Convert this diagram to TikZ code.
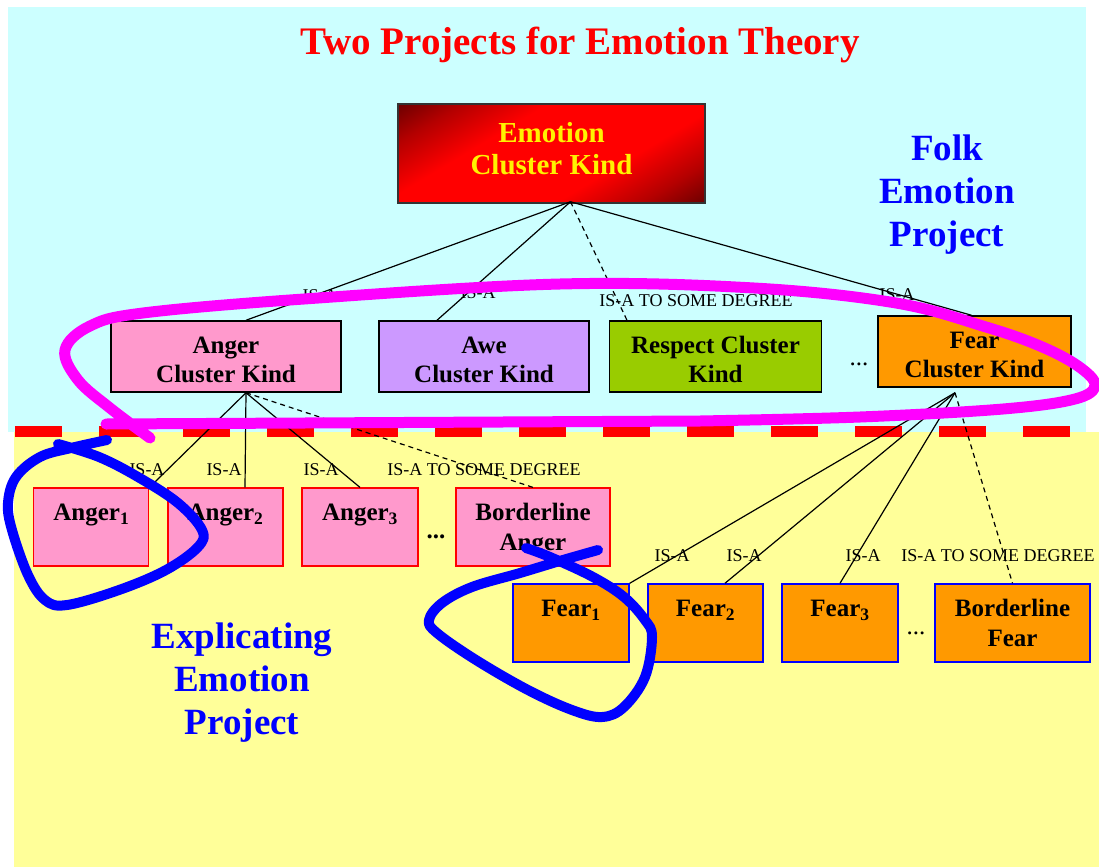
\documentclass[tikz,border=0pt]{standalone}
\usepackage{fontspec}
\setmainfont{Liberation Serif}
\usetikzlibrary{calc}

\definecolor{skycyan}{HTML}{CCFFFF}
\definecolor{paleyellow}{HTML}{FFFF99}
\definecolor{angerpink}{HTML}{FF99CC}
\definecolor{awepurple}{HTML}{CC99FF}
\definecolor{respectgreen}{HTML}{99CC00}
\definecolor{fearorange}{HTML}{FF9900}
\definecolor{emodark}{HTML}{6A0000}
\definecolor{emomid}{HTML}{B40000}
\definecolor{emored}{HTML}{FF0000}
\definecolor{inkblue}{HTML}{0000FF}
\definecolor{penmagenta}{HTML}{FF00FF}

\newcommand\setfs[2]{\fontsize{#1}{#2}\selectfont}
% two centred lines, baseline on the first one
\newcommand\twolines[2]{\begin{tabular}[t]{@{}c@{}}#1\\#2\end{tabular}}

% glow for the root box: dark ends, bright red middle
\pgfdeclarehorizontalshading{emoglow}{100bp}{%
  color(0bp)=(emodark); color(32bp)=(emodark); color(37bp)=(emomid);
  color(43.5bp)=(emored); color(56.5bp)=(emored); color(63bp)=(emomid);
  color(68bp)=(emodark); color(100bp)=(emodark)}

\begin{document}
\begin{tikzpicture}[x=1pt,y=-1pt,
  kindbox/.style={draw=black, line width=1.5pt, minimum height=71pt, inner sep=0pt,
    text height=10pt, text depth=16pt, font=\bfseries\setfs{25}{28.5}},
  leafbox/.style={minimum height=78pt, inner sep=0pt,
    text height=8pt, text depth=21pt, font=\bfseries\setfs{25}{30}},
  angerleaf/.style={leafbox, draw=red, line width=1.2pt, fill=angerpink},
  fearleaf/.style={leafbox, draw=inkblue, line width=1.5pt, fill=fearorange},
  isa/.style={draw=black, line width=1.2pt},
  isadeg/.style={isa, dash pattern=on 5pt off 4pt},
  relabel/.style={inner sep=0pt, font=\setfs{18}{20}},
  dots/.style={inner sep=0pt, font=\setfs{25}{30}},
  projtext/.style={align=center, inner sep=0pt, text=inkblue, font=\bfseries\setfs{37}{43}},
  pen/.style={line width=#1, line cap=round, line join=round},
  % the glow runs from the top-left corner to the bottom-right corner
  diagglow/.style={path picture={
    \shade[shading=emoglow,
      transform canvas={rotate around={-59:(path picture bounding box.center)}}]
      ($(path picture bounding box.center)+(-170,-170)$) rectangle
      ($(path picture bounding box.center)+(170,170)$);}},
]
\useasboundingbox (0,0) rectangle (1099,867);

% backgrounds of the two projects
\fill[white] (0,0) rectangle (1099,867);
\fill[skycyan] (8,7) rectangle (1086,432);
\fill[paleyellow] (14,432) rectangle (1099,867);

% boundary between the two projects
\coordinate (bl) at (15,431);
\coordinate (br) at (1070,431);
\draw[red, line width=11pt, dash pattern=on 47pt off 37pt] (bl) -- (br);

% title
\node[text=red, inner sep=0pt, font=\bfseries\setfs{39}{44}] (title) at (580,45)
  {Two Projects for Emotion Theory};

% root kind
\node[draw=black!80, line width=1.5pt, fill=emored, diagglow,
  minimum width=307pt, minimum height=99pt, inner sep=0pt,
  text height=5pt, text depth=28pt,
  text=yellow, font=\bfseries\setfs{29}{32}] (emo) at (551.5,153.5)
  {\twolines{Emotion}{Cluster Kind}};

% cluster kinds
\node[kindbox, fill=angerpink, minimum width=230pt] (ack) at (226,356.5) {\twolines{Anger}{Cluster Kind}};
\node[kindbox, fill=awepurple, minimum width=210pt] (awe) at (484,356.5) {\twolines{Awe}{Cluster Kind}};
\node[kindbox, fill=respectgreen, minimum width=212pt] (resp) at (715.5,356.5) {\twolines{Respect Cluster}{Kind}};
\node[kindbox, fill=fearorange, minimum width=193pt] (fck) at (974.5,351.5) {\twolines{Fear}{Cluster Kind}};
\node[dots] (kdots) at (859,364) {...};

% explicated anger kinds
\node[angerleaf, minimum width=115pt] (a1) at (91.3,527) {Anger\textsubscript{1}};
\node[angerleaf, minimum width=115pt] (a2) at (225.5,527) {Anger\textsubscript{2}};
\node[angerleaf, minimum width=116pt] (a3) at (360,527) {Anger\textsubscript{3}};
\node[angerleaf, minimum width=154pt] (ab) at (533,527) {\twolines{Borderline}{Anger}};
\node[dots, font=\bfseries\setfs{25}{30}] (adots) at (436,537) {...};

% explicated fear kinds
\node[fearleaf, minimum width=116pt] (f1) at (571,623) {Fear\textsubscript{1}};
\node[fearleaf, minimum width=115pt] (f2) at (705.5,623) {Fear\textsubscript{2}};
\node[fearleaf, minimum width=116pt] (f3) at (840,623) {Fear\textsubscript{3}};
\node[fearleaf, minimum width=155pt] (fb) at (1012.5,623) {\twolines{Borderline}{Fear}};
\node[dots] (fdots) at (916,633) {...};

% is-a links from the root
\coordinate (emohub) at ($(emo.south)+(19,-2)$);
\draw[isa] (emohub) -- ($(ack.north)+(20,0)$);
\draw[isa] (emohub) -- ($(awe.north)+(-47,0)$);
\draw[isadeg] (emohub) -- ($(resp.north)+(-88.5,0)$);
\draw[isa] (emohub) -- ($(fck.north)+(-3,0)$);

% is-a links below anger
\coordinate (ackhub) at ($(ack.south)+(20,0)$);
\draw[isa] (ackhub) -- (a1.north east);
\draw[isa] (ackhub) -- ($(a2.north)+(19.5,0)$);
\draw[isa] (ackhub) -- (a3.north);
\draw[isadeg] (ackhub) -- (ab.north);

% is-a links below fear
\coordinate (fckhub) at ($(fck.south)+(-19.5,5)$);
\draw[isa] (fckhub) -- (f1.north east);
\draw[isa] (fckhub) -- ($(f2.north)+(19.5,0)$);
\draw[isa] (fckhub) -- (f3.north);
\draw[isadeg] (fckhub) -- (fb.north);

% link labels
\node[relabel] (t1) at (320,296) {IS-A};
\node[relabel] (t2) at (478,293) {IS-A};
\node[relabel] (t3) at (696,301) {IS-A TO SOME DEGREE};
\node[relabel] (t4) at (897,295) {IS-A};
\node[relabel] (t5) at (147,470) {IS-A};
\node[relabel] (t6) at (224,470) {IS-A};
\node[relabel] (t7) at (321,470) {IS-A};
\node[relabel] (t8) at (484,470) {IS-A TO SOME DEGREE};
\node[relabel] (t9) at (672,556) {IS-A};
\node[relabel] (t10) at (744,556) {IS-A};
\node[relabel] (t11) at (863,556) {IS-A};
\node[relabel] (t12) at (998,556) {IS-A TO SOME DEGREE};

% project names
\node[projtext] (folk) at (947,195) {Folk\\Emotion\\Project};
\node[projtext] (expl) at (242,683) {Explicating\\Emotion\\Project};

% hand-drawn marks: folk-level kinds circled
\draw[penmagenta, pen=11pt] (106,424) -- plot[smooth, tension=0.6] coordinates {
  (700,421) (860,417) (1003,409) (1075,399) (1095,385) (1078,366) (1040,346)
  (986,327) (896,303) (754,288) (560,284) (304,299) (143,313) (90,326)
  (65,350) (78,380) (110,408) (150,438)};

% hand-drawn marks: first explicated kinds circled
\draw[inkblue, pen=10pt] plot[smooth, tension=0.6] coordinates {
  (58,444) (99,457) (138,477) (178,503) (202,530) (198,547) (166,570)
  (119,590) (67,605) (45,600) (28,575) (12,530) (8,503) (16,477)
  (40,457) (71,448) (107,440)};
\draw[inkblue, pen=10pt] plot[smooth, tension=0.6] coordinates {
  (526,548) (550,557) (593,577) (624,597) (645,620) (652,637) (645,677)
  (624,707) (602,717) (572,710) (528,690) (476,660) (437,633) (429,620)
  (442,603) (472,587) (520,573) (563,560) (598,550)};
\end{tikzpicture}
\end{document}
